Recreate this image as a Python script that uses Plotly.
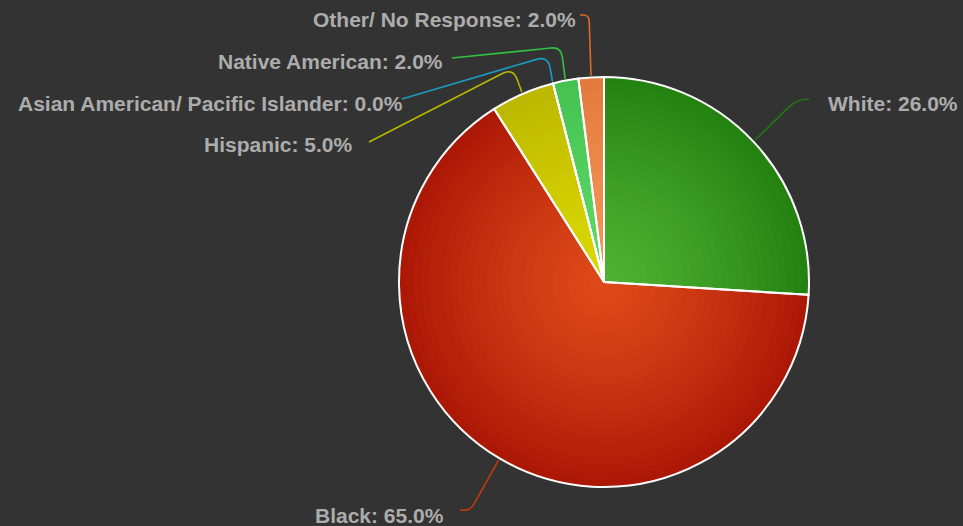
import math
import plotly.graph_objects as go

# ---------------- data ----------------
categories = ["White", "Black", "Hispanic", "Asian American/ Pacific Islander",
              "Native American", "Other/ No Response"]
values = [26.0, 65.0, 5.0, 0.0, 2.0, 2.0]

# ---------------- styles ----------------
center_colors = ["#4eb232", "#de4a19", "#dad800", "#2ab0d8", "#5eda68", "#f6965a"]
edge_colors = ["#248210", "#ac1806", "#bcb800", "#1688b0", "#46c252", "#e27a3c"]
line_colors = ["#1e7a0e", "#c8380f", "#b8b800", "#1a9cc0", "#33c040", "#dd6a28"]

W, H = 963, 526
CX, CY, R = 604, 282, 205
TEXT_COLOR = "#acacac"
FONT = "Liberation Sans"

# label layout in pixels: side, text anchor x/y, connector corner, connector end
label_layout = [
    dict(side="left", tx=826, ty=103, corner=(797, 99), end=(808, 99), rc=12),
    dict(side="right", tx=446, ty=515, corner=(470, 511), end=(460, 510), rc=8),
    dict(side="right", tx=355, ty=145, corner=(513, 68), end=(369, 142), rc=12),
    dict(side="right", tx=405, ty=103, corner=(548, 56), end=(402, 99), rc=12),
    dict(side="right", tx=445, ty=61, corner=(561, 47), end=(452, 58), rc=10),
    dict(side="right", tx=578, ty=19, corner=(589, 15), end=(580, 15), rc=6),
]


def px(x):
    return x / W


def py(y):
    return 1 - y / H


def mix(c1, c2, t):
    a = [int(c1[i:i + 2], 16) for i in (1, 3, 5)]
    b = [int(c2[i:i + 2], 16) for i in (1, 3, 5)]
    return "#%02x%02x%02x" % tuple(round(a[i] + (b[i] - a[i]) * t) for i in range(3))


fig = go.Figure()

# faux radial gradient: stacked concentric pies
N = 28
for k in range(N):
    f = 1 - k / N
    r = R * f
    cols = [mix(center_colors[i], edge_colors[i], f ** 1.3) for i in range(len(values))]
    fig.add_trace(go.Pie(
        labels=categories, values=values, sort=False, direction="clockwise",
        rotation=0, textinfo="none", hoverinfo="skip", showlegend=False,
        marker=dict(colors=cols, line=dict(width=0)),
        domain=dict(x=[px(CX - r), px(CX + r)], y=[py(CY + r), py(CY - r)]),
    ))

# top outline layer (white borders)
fig.add_trace(go.Pie(
    labels=categories, values=values, sort=False, direction="clockwise",
    rotation=0, textinfo="none", hoverinfo="label+percent", showlegend=False,
    marker=dict(colors=["rgba(0,0,0,0)"] * len(values), line=dict(color="white", width=2)),
    domain=dict(x=[px(CX - R), px(CX + R)], y=[py(CY + R), py(CY - R)]),
))

# labels and connectors
total = sum(values)
cum = 0.0
shapes = []
annotations = []


def toward(ax, ay, bx, by, d):
    dx, dy = bx - ax, by - ay
    ln = math.hypot(dx, dy) or 1
    return ax + dx / ln * d, ay + dy / ln * d


for i, (cat, v) in enumerate(zip(categories, values)):
    mid = (cum + v / 2) / total * 2 * math.pi
    cum += v
    ex = CX + (R + 2) * math.sin(mid)
    ey = CY - (R + 2) * math.cos(mid)
    L = label_layout[i]
    cx_, cy_ = L["corner"]
    nx, ny = L["end"]
    rc = L["rc"]
    a = toward(cx_, cy_, ex, ey, rc)
    b = toward(cx_, cy_, nx, ny, rc)
    path = (f"M {px(ex)},{py(ey)} L {px(a[0])},{py(a[1])} "
            f"Q {px(cx_)},{py(cy_)} {px(b[0])},{py(b[1])} L {px(nx)},{py(ny)}")
    shapes.append(dict(type="path", xref="paper", yref="paper", path=path,
                       line=dict(color=line_colors[i], width=1.6)))
    annotations.append(dict(
        xref="paper", yref="paper", x=px(L["tx"]), y=py(L["ty"]),
        xanchor="left" if L["side"] == "left" else "right", yanchor="middle",
        text=f"<b>{cat}: {v:.1f}%</b>", showarrow=False,
        font=dict(family=FONT, size=21, color=TEXT_COLOR),
    ))

fig.update_layout(
    width=W, height=H,
    margin=dict(l=0, r=0, t=0, b=0),
    paper_bgcolor="#333333",
    plot_bgcolor="#333333",
    shapes=shapes,
    annotations=annotations,
    showlegend=False,
)

fig.write_html("out.html")
